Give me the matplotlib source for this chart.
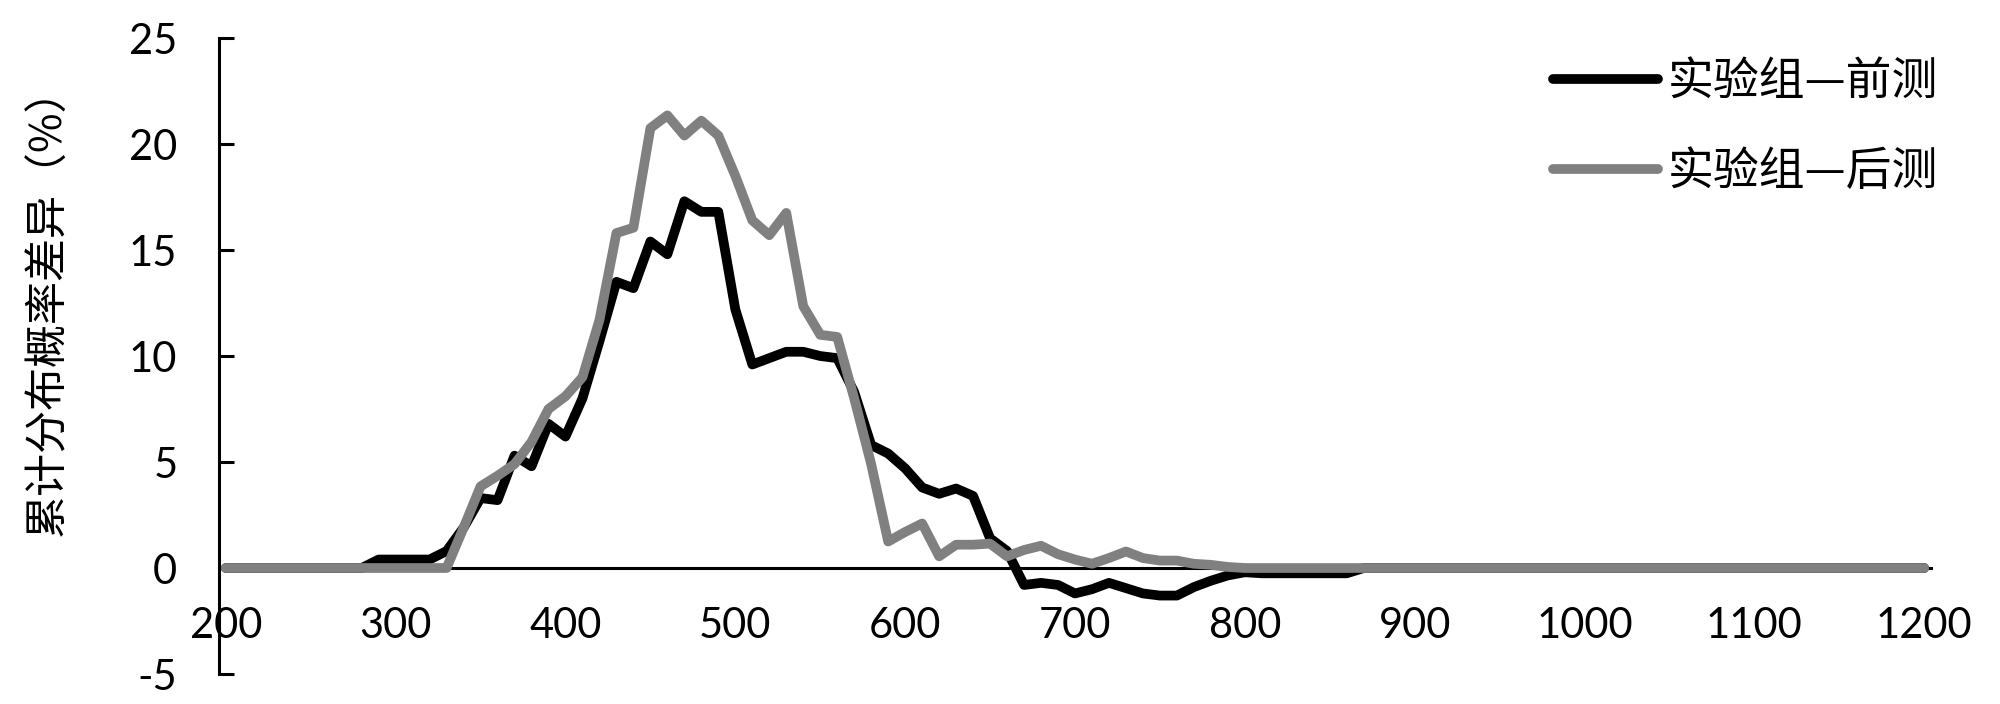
import matplotlib
matplotlib.use("Agg")
import matplotlib.pyplot as plt

plt.rcParams['font.family'] = ['Lato', 'Noto Sans CJK SC', 'DejaVu Sans']

# categories (score bins)
x_values = list(range(200, 1210, 10))
x_tick_values = [200, 300, 400, 500, 600, 700, 800, 900, 1000, 1100, 1200]
y_tick_values = [-5, 0, 5, 10, 15, 20, 25]

series_names = ["实验组—前测", "实验组—后测"]

pre_test = ([0.0] * 9 +
            [0.4, 0.4, 0.4, 0.4, 0.8, 1.9, 3.3, 3.2, 5.3, 4.8,
             6.8, 6.2, 8.0, 10.7, 13.5, 13.2, 15.4, 14.8, 17.3, 16.8,
             16.8, 12.2, 9.6, 9.9, 10.2, 10.2, 10.0, 9.9, 8.3, 5.8,
             5.4, 4.7, 3.8, 3.5, 3.75, 3.4, 1.4, 0.8, -0.8, -0.7,
             -0.8, -1.2, -1.0, -0.7, -0.95, -1.2, -1.3, -1.3, -0.9, -0.6,
             -0.35, -0.2, -0.25, -0.25, -0.25, -0.25, -0.25, -0.25] +
            [0.0] * 34)

post_test = ([0.0] * 14 +
             [1.9, 3.85, 4.35, 4.9, 5.95, 7.5, 8.1, 9.0, 11.7, 15.8,
              16.05, 20.75, 21.35, 20.4, 21.1, 20.4, 18.5, 16.4, 15.7, 16.75,
              12.35, 11.0, 10.9, 8.0, 4.9, 1.25, 1.7, 2.1, 0.55, 1.1,
              1.1, 1.15, 0.55, 0.85, 1.05, 0.65, 0.4, 0.2, 0.47, 0.78,
              0.47, 0.35, 0.35, 0.2, 0.15, 0.05] +
             [0.0] * 41)

fig = plt.figure(figsize=(20, 7.04), dpi=100)
ax = fig.add_axes([0.1095, 0.0426, 0.856, 0.9034])

lw = 7.0
ax.plot(x_values, pre_test, color='#000000', lw=lw, solid_capstyle='round',
        solid_joinstyle='round', label=series_names[0], zorder=3)
ax.plot(x_values, post_test, color='#808080', lw=lw, solid_capstyle='round',
        solid_joinstyle='round', label=series_names[1], zorder=4)

ax.set_xlim(196, 1204)
ax.set_ylim(-5, 25)

for s in ['top', 'right']:
    ax.spines[s].set_visible(False)
ax.spines['bottom'].set_position(('data', 0))
ax.spines['bottom'].set_linewidth(2.2)
ax.spines['left'].set_linewidth(2.2)
ax.spines['bottom'].set_zorder(2)

ax.set_xticks(x_tick_values)
ax.set_xticklabels([str(v) for v in x_tick_values])
ax.set_yticks(y_tick_values)
ax.set_yticklabels([str(v) for v in y_tick_values])

ax.tick_params(axis='x', length=0, pad=28, labelsize=30)
ax.tick_params(axis='y', direction='in', length=11, width=2.2, pad=30, labelsize=30)

fig.text(49 / 2000, 1 - 301 / 704, "累计分布概率差异（%）", rotation=90,
         ha='center', va='center', fontsize=31,
         family=['Noto Sans CJK SC', 'DejaVu Sans'], color='#000000')

leg = ax.legend(loc='upper left', bbox_to_anchor=(1553 / 2000, 1 - 58 / 704),
                bbox_transform=fig.transFigure, frameon=False,
                prop={'family': ['Noto Sans CJK SC', 'DejaVu Sans'], 'size': 33},
                handlelength=2.3, handletextpad=0.2, labelspacing=0.9,
                borderpad=0, borderaxespad=0)

fig.savefig("out.png", dpi=100, facecolor='white')
